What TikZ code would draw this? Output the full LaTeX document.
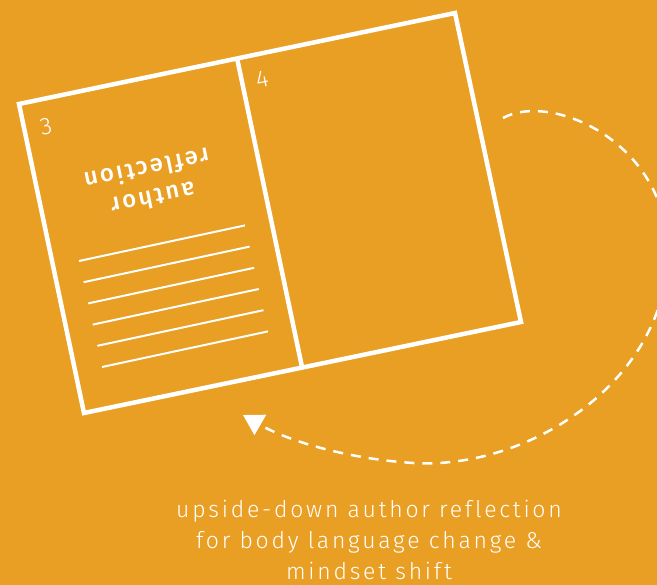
\documentclass[tikz,border=0pt]{standalone}
\usepackage{fontspec}
\setmainfont{Fira Sans}[UprightFont={* Light}]
\newfontfamily\captionfont{Fira Sans}[UprightFont={* Light},LetterSpace=12,Ligatures=NoCommon]
\newfontfamily\titlefont{Fira Sans}[UprightFont={* Medium},LetterSpace=10,Ligatures=NoCommon]
\newfontfamily\numfont{Fira Sans}[UprightFont={* Light}]
\usetikzlibrary{arrows.meta,positioning}
\definecolor{bgorange}{RGB}{232,159,35}

\begin{document}
\begin{tikzpicture}[x=1pt,y=-1pt,
    page/.style={draw=white, line width=4.5pt, line join=miter},
    textline/.style={draw=white, line width=2pt},
    pagenum/.style={rotate=11.6, white, font=\numfont\fontsize{24}{24}\selectfont},
    arcline/.style={draw=white, line width=2.5pt, dash pattern=on 10pt off 8pt,
      -{Triangle[length=20pt,width=23pt]}}]
        % Background
        \useasboundingbox (0,0) rectangle (657,585);
        \fill[bgorange] (0,0) rectangle (657,585);
        % Define coordinates
        \coordinate (TL) at (19,104);
        \coordinate (TR) at (455,13);
        \coordinate (BR) at (521,322);
        \coordinate (BL) at (84,413);
        \coordinate (spineT) at (237,58);
        \coordinate (spineB) at (302,367);
        % Draw the open book
        \draw[page] (TL) -- (TR) -- (BR) -- (BL) -- cycle;
        \draw[page] (spineT) -- (spineB);
        % Page numbers
        \node[pagenum] (num3) at (46,127) {3};
        \node[pagenum] (num4) at (262,79) {4};
        % Upside-down title
        \node[rotate=191.6, align=center, white, font=\titlefont\fontsize{24}{30}\selectfont]
          (title) at (150,184) {author\\reflection};
        % Text lines on the left page
        \foreach \i in {0,...,5}
          \draw[textline] ({79+4.6*\i},{261+21.2*\i}) -- ++(166,-35.6);
        % Dashed turning arrow
        \coordinate (arcstart) at (503,118);
        \coordinate (arcend) at (243,415);
        \begin{scope}
          \clip (0,0) rectangle (657,585);
          \draw[arcline] (arcstart) .. controls (550,92) and (665,140) .. (668,250)
            .. controls (668,380) and (530,470) .. (413,463)
            .. controls (350,459) and (290,442) .. (arcend);
        \end{scope}
        % Caption
        \node[anchor=north, align=center, white, inner sep=0pt,
          font=\captionfont\fontsize{23}{31}\selectfont] (caption) at (369,500)
          {upside-down author reflection\\for body language change \&\\mindset shift};
      \end{tikzpicture}
\end{document}
